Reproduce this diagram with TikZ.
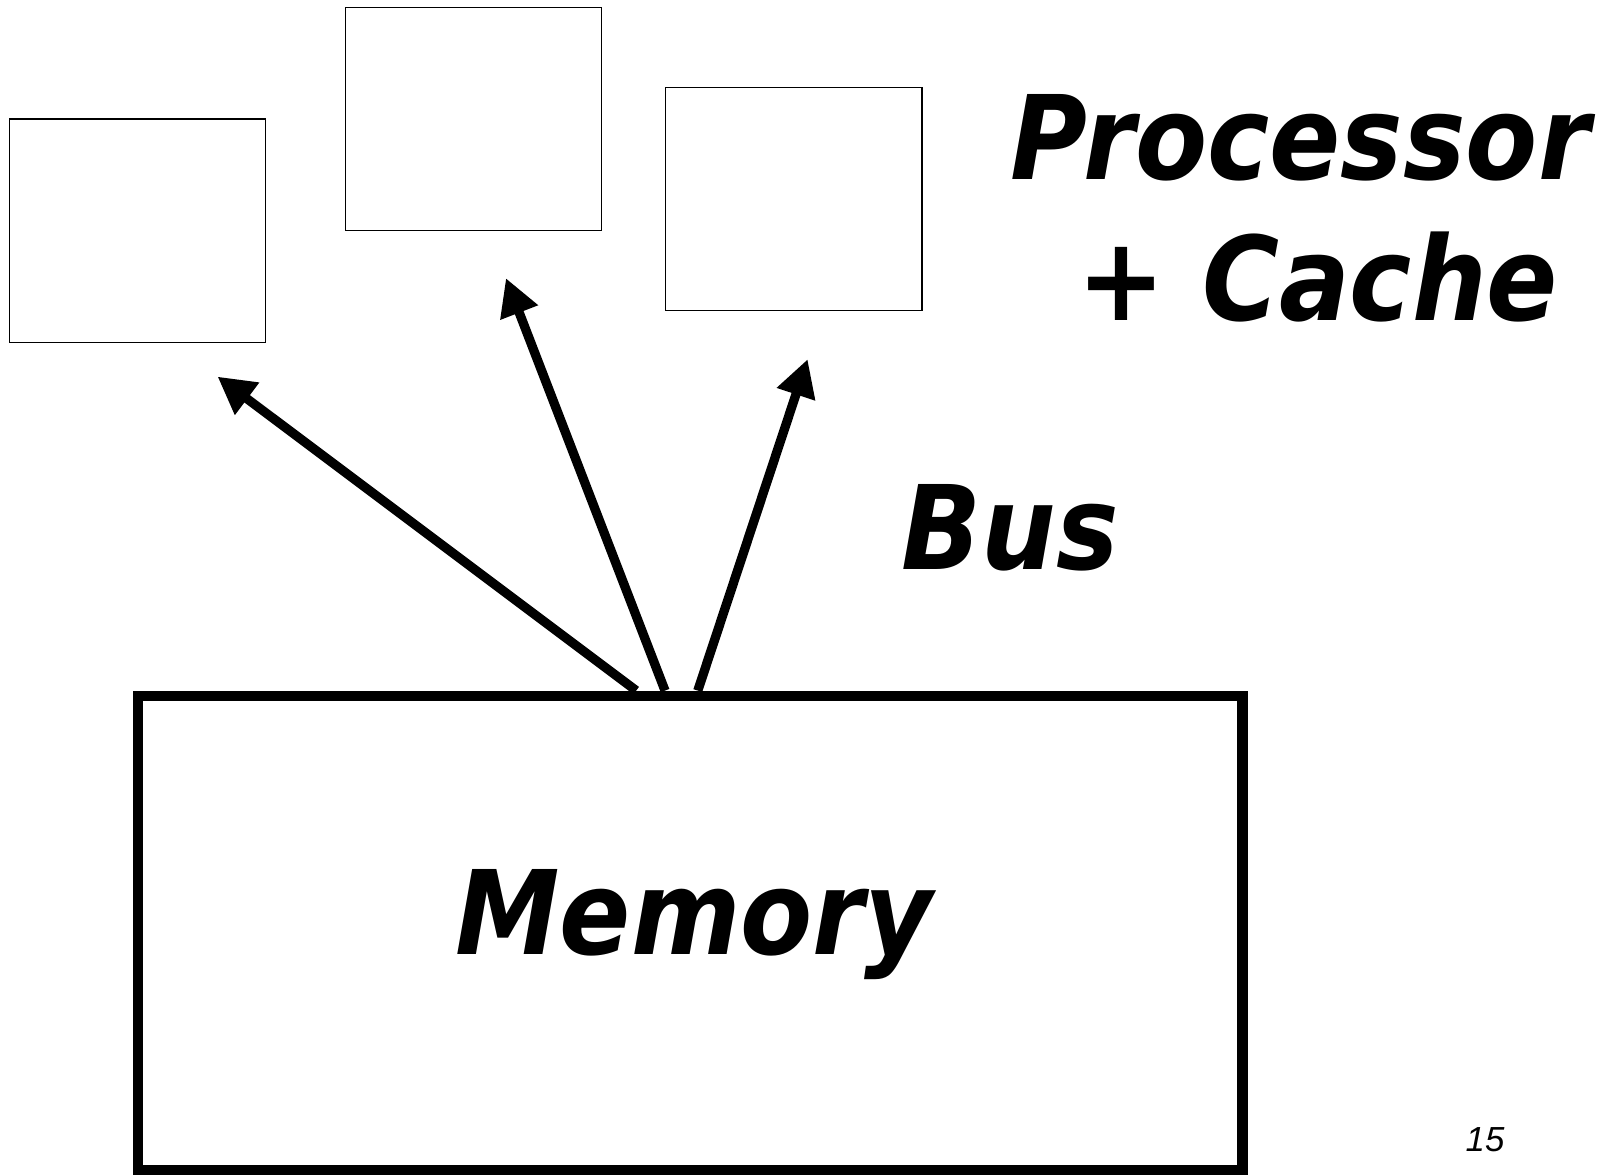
\documentclass[tikz,border=0pt]{standalone}
\usepackage{fontspec}
\usepackage{tikz}
\usetikzlibrary{arrows.meta}
\newfontfamily\labelfont{DejaVu Sans Condensed}
\newfontfamily\pagefont{Liberation Sans}

\begin{document}
\begin{tikzpicture}[x=0.02cm, y=-0.02cm,
    cachebox/.style={rectangle, draw, line width=0.85pt, minimum width=5.13cm, minimum height=4.47cm},
    membox/.style={rectangle, draw, line width=0.206cm, minimum width=22.1cm, minimum height=9.48cm},
    biglabel/.style={inner sep=0pt, anchor=base, font=\labelfont\bfseries\itshape\fontsize{66.4}{80}\selectfont},
    busarrow/.style={-{Triangle[length=0.74cm, width=0.76cm]}, line width=0.185cm}]
    \useasboundingbox (0,0) rectangle (1609,1175);

    % ノードの定義
    \node[cachebox] (P1) at (137.5, 230.9) {};
    \node[cachebox] (P2) at (473.5, 119) {};
    \node[cachebox] (P3) at (793.7, 199) {};
    \node[membox] (M) at (690.1, 932.75) {};

    % ラベル
    \node[biglabel] (proc) at (1300, 179.6) {Processor};
    \node[biglabel] (cache) at (1318, 321) {+ Cache};
    \node[biglabel] (bus) at (1010, 569.5) {Bus};
    \node[biglabel] (memlabel) at (694, 954) {Memory};
    \node[inner sep=0pt, anchor=base, font=\pagefont\itshape\fontsize{19.8}{24}\selectfont] (page) at (1485, 1151) {15};

    % 矢印の端点
    \coordinate (T1) at (217.5, 376.6);
    \coordinate (T2) at (505.9, 278.1);
    \coordinate (T3) at (807.6, 359.2);
    \coordinate (S1) at (636.2, 690.6);
    \coordinate (S2) at (665, 690.6);
    \coordinate (S3) at (697.8, 690.6);

    % 太い有向エッジを引く
    \draw[busarrow] (S1) -- (T1);
    \draw[busarrow] (S2) -- (T2);
    \draw[busarrow] (S3) -- (T3);

\end{tikzpicture}
\end{document}
